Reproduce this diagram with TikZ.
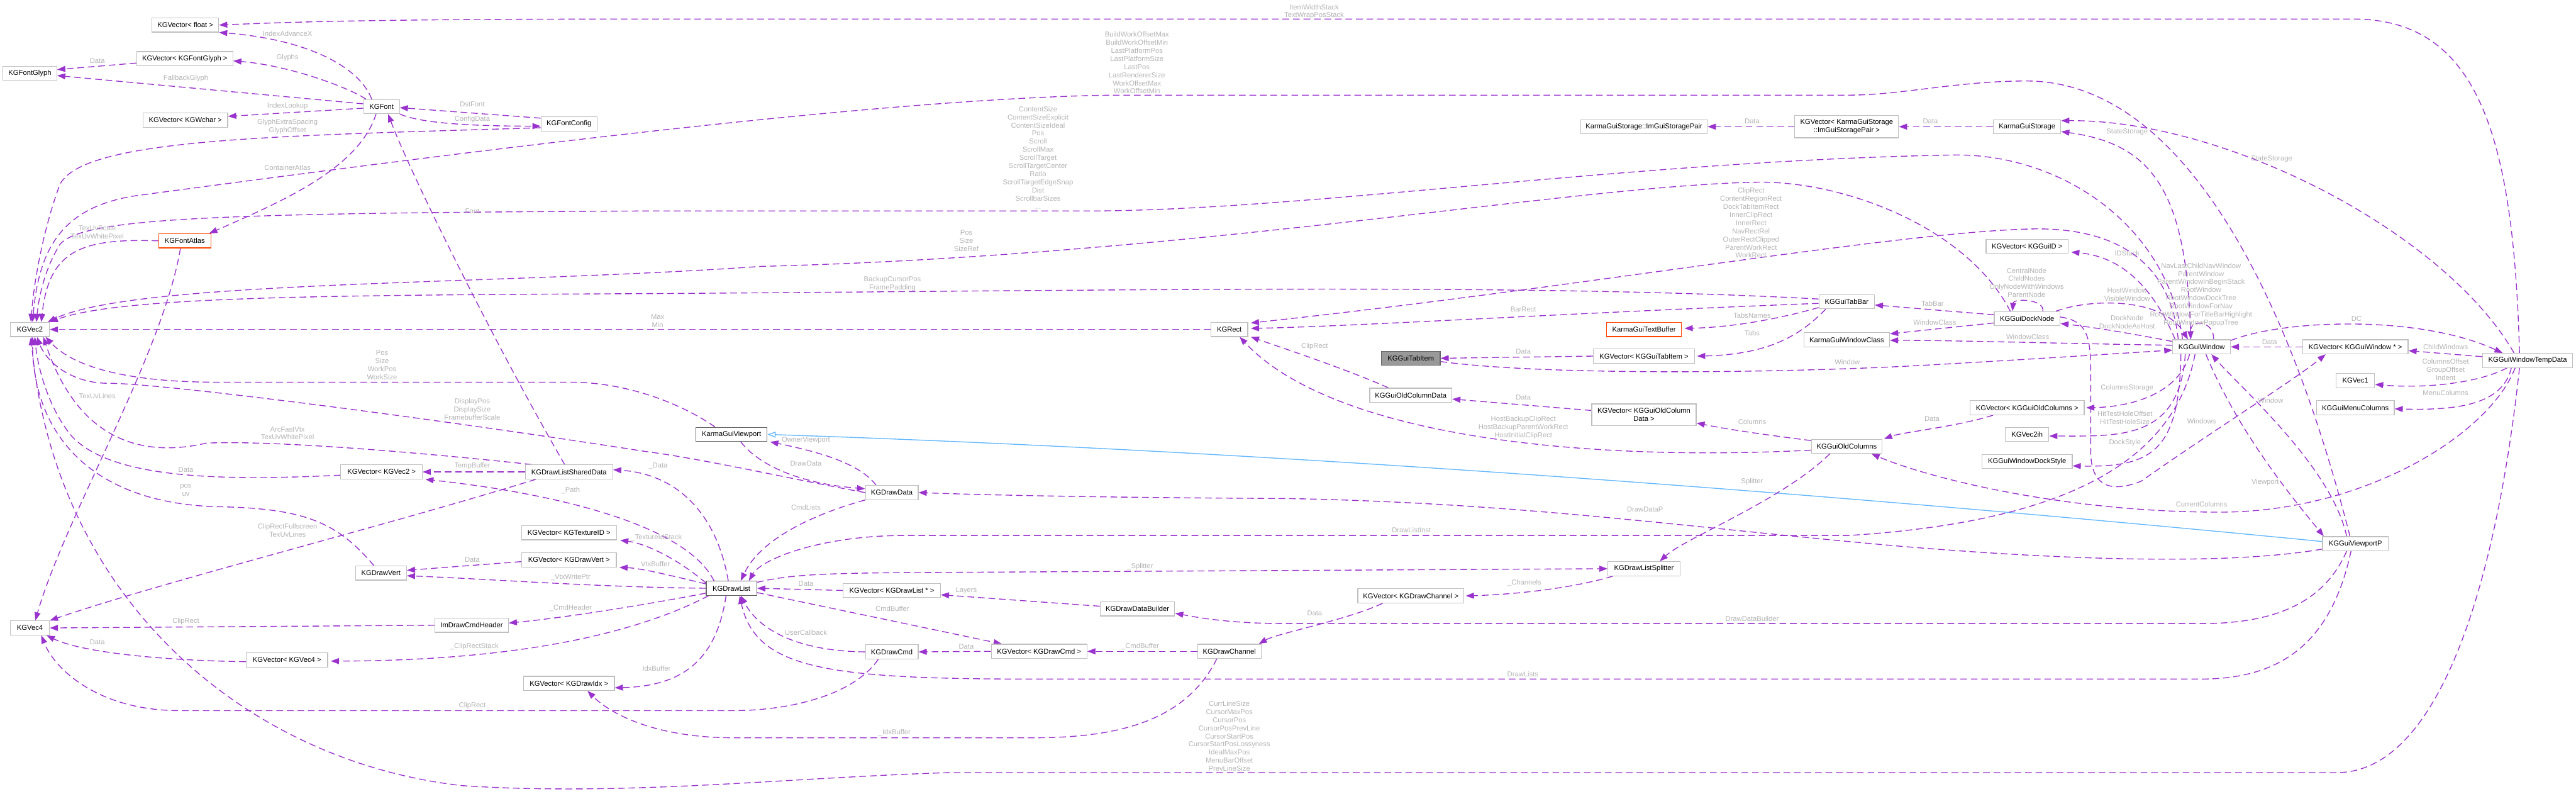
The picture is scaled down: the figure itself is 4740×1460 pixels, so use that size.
\documentclass[tikz,border=0pt]{standalone}
\usepackage{fontspec}
\setmainfont{Liberation Sans}
\usetikzlibrary{arrows.meta,calc}
\definecolor{edgecol}{HTML}{9A32CD}
\definecolor{lblcol}{HTML}{B4B4B4}
\definecolor{bordcol}{HTML}{BFBFBF}
\definecolor{darkbord}{HTML}{666666}
\definecolor{orangebord}{HTML}{FF4500}
\definecolor{inhcol}{HTML}{63B8FF}
\definecolor{focusfill}{HTML}{999999}
\pgfdeclarelayer{bg}
\pgfsetlayers{bg,main}
\begin{document}
\begin{tikzpicture}[x=0.02cm,y=-0.02cm,
  cls/.style={draw=bordcol, fill=white, line width=0.8pt, font=\fontsize{7.4}{8.5}\selectfont, minimum height=0.52cm, inner xsep=2pt, inner ysep=0pt, align=center},
  lbl/.style={font=\fontsize{7.4}{8.5}\selectfont, text=lblcol, align=center, inner sep=0pt},
  e/.style={draw=edgecol, line width=0.9pt, dash pattern=on 7pt off 4pt, -{Triangle[length=0.3cm,width=0.22cm]}},
  inh/.style={draw=inhcol, line width=0.9pt, -{Triangle[open,length=0.3cm,width=0.22cm,fill=white]}}
]
\useasboundingbox (0,0) rectangle (4740,1460);

% ---------------- nodes ----------------
\node[cls, minimum width=2.46cm] (vfloat) at (341,46) {KGVector< float >};
\node[cls, minimum width=3.54cm] (vglyph) at (340,108) {KGVector< KGFontGlyph >};
\node[cls, minimum width=1.98cm] (glyph) at (55,135) {KGFontGlyph};
\node[cls, minimum width=1.32cm] (font) at (702,196) {KGFont};
\node[cls, minimum width=3.12cm] (vwchar) at (341,221) {KGVector< KGWchar >};
\node[cls, minimum width=2.06cm] (fcfg) at (1047,228) {KGFontConfig};
\node[cls, draw=orangebord, minimum width=1.92cm] (atlas) at (340,443) {KGFontAtlas};
\node[cls, minimum width=1.44cm] (vec2) at (55,606) {KGVec2};
\node[cls, minimum width=3.0cm] (vvec2) at (702,868) {KGVector< KGVec2 >};
\node[cls, minimum width=3.22cm] (shared) at (1047,868) {KGDrawListSharedData};
\node[cls, minimum width=3.5cm] (vtex) at (1047,980) {KGVector< KGTextureID >};
\node[cls, minimum width=1.88cm] (vert) at (701,1054) {KGDrawVert};
\node[cls, minimum width=3.48cm] (vvert) at (1047,1030) {KGVector< KGDrawVert >};
\node[cls, minimum width=1.44cm] (vec4) at (55,1155) {KGVec4};
\node[cls, minimum width=2.7cm] (cmdhdr) at (868,1150) {ImDrawCmdHeader};
\node[cls, minimum width=3.0cm] (vvec4) at (528,1214) {KGVector< KGVec4 >};
\node[cls, minimum width=3.34cm] (vidx) at (1047,1257) {KGVector< KGDrawIdx >};
\node[cls, minimum width=1.36cm] (rect) at (2262,606) {KGRect};
\node[cls, draw=darkbord, minimum width=2.62cm] (vp) at (1346,799) {KarmaGuiViewport};
\node[cls, minimum width=1.94cm] (ddata) at (1641,906) {KGDrawData};
\node[cls, draw=darkbord, minimum width=1.86cm] (dlist) at (1346,1082) {KGDrawList};
\node[cls, minimum width=3.58cm] (vdlist) at (1641,1086) {KGVector< KGDrawList * >};
\node[cls, minimum width=2.74cm] (ddb) at (2093,1120) {KGDrawDataBuilder};
\node[cls, minimum width=1.94cm] (dcmd) at (1641,1199) {KGDrawCmd};
\node[cls, minimum width=3.52cm] (vdcmd) at (1912,1198) {KGVector< KGDrawCmd >};
\node[cls, minimum width=2.34cm] (dchan) at (2262,1198) {KGDrawChannel};
\node[cls, minimum width=2.04cm] (tabbar) at (3398,555) {KGGuiTabBar};
\node[cls, draw=orangebord, minimum width=2.76cm] (tbuf) at (3025,606) {KarmaGuiTextBuffer};
\node[cls, minimum width=3.16cm] (wclass) at (3398,625) {KarmaGuiWindowClass};
\node[cls, draw=darkbord, fill=focusfill, minimum width=2.16cm] (tabitem) at (2596,659) {KGGuiTabItem};
\node[cls, minimum width=3.72cm] (vtabitem) at (3025,655) {KGVector< KGGuiTabItem >};
\node[cls, minimum width=3.02cm] (ocd) at (2596,727) {KGGuiOldColumnData};
\node[cls, minimum width=3.84cm, minimum height=0.8cm] (vocd) at (3025,763) {KGVector< KGGuiOldColumn\\Data >};
\node[cls, minimum width=2.6cm] (oc) at (3398,821) {KGGuiOldColumns};
\node[cls, minimum width=2.66cm] (split) at (3025,1046) {KGDrawListSplitter};
\node[cls, minimum width=3.9cm] (vchan) at (2596,1096) {KGVector< KGDrawChannel >};
\node[cls, minimum width=4.66cm] (spair) at (3025,233) {KarmaGuiStorage::ImGuiStoragePair};
\node[cls, minimum width=3.82cm, minimum height=0.82cm] (vspair) at (3398,233) {KGVector< KarmaGuiStorage\\::ImGuiStoragePair >};
\node[cls, minimum width=2.48cm] (storage) at (3730,233) {KarmaGuiStorage};
\node[cls, minimum width=3.02cm] (vid) at (3730,453) {KGVector< KGGuiID >};
\node[cls, minimum width=2.42cm] (dock) at (3730,586) {KGGuiDockNode};
\node[cls, minimum width=2.12cm] (win) at (4051,638) {KGGuiWindow};
\node[cls, minimum width=3.88cm] (vwin) at (4334,638) {KGVector< KGGuiWindow * >};
\node[cls, minimum width=3.32cm] (temp) at (4651,663) {KGGuiWindowTempData};
\node[cls, minimum width=1.42cm] (vec1) at (4334,700) {KGVec1};
\node[cls, minimum width=2.86cm] (menucol) at (4334,750) {KGGuiMenuColumns};
\node[cls, minimum width=4.2cm] (voc) at (3730,750) {KGVector< KGGuiOldColumns >};
\node[cls, minimum width=1.6cm] (vec2ih) at (3730,799) {KGVec2ih};
\node[cls, minimum width=3.32cm] (dstyle) at (3730,849) {KGGuiWindowDockStyle};
\node[cls, minimum width=2.42cm] (vpp) at (4334,1000) {KGGuiViewportP};

% ---------------- edges ----------------
\begin{pgfonlayer}{bg}
\fill[white] (0,0) rectangle (4740,1460);
\draw[e] ($(temp.north)+(-15,0)$) .. controls (4625,250) and (4560,35) .. (4330,35) -- (1200,35) .. controls (700,35) and (550,40) .. (vfloat.east)
  node[lbl] (l1) at (2418,21.5) {ItemWidthStack\\TextWrapPosStack};
\draw[e] ($(font.north)+(-18,0)$) .. controls (660,120) and (560,72) .. (vfloat.south east)
  node[lbl] (l2) at (529,62) {IndexAdvanceX};
\draw[e] ($(font.north west)+(5,0)$) .. controls (640,160) and (530,120) .. ($(vglyph.east)+(0,4)$)
  node[lbl] (l3) at (529,106) {Glyphs};
\draw[e] ($(vglyph.west)+(0,8)$) -- ($(glyph.east)+(0,-7)$)
  node[lbl] (l4) at (179,112) {Data};
\draw[e] ($(font.west)+(0,-5)$) -- ($(glyph.east)+(0,4)$)
  node[lbl] (l5) at (342,144) {FallbackGlyph};
\draw[e] ($(font.west)+(0,3)$) -- ($(vwchar.east)+(0,-7)$)
  node[lbl] (l6) at (529,195) {IndexLookup};
\draw[e] ($(fcfg.north west)+(0,3)$) -- ($(font.east)+(0,2)$)
  node[lbl] (l7) at (869,192) {DstFont};
\draw[e] (font.south east) .. controls (770,225) and (850,232) .. ($(fcfg.west)+(0,4)$)
  node[lbl] (l8) at (869,219) {ConfigData};
\draw[e] ($(fcfg.west)+(0,7)$) .. controls (500,250) and (150,255) .. (110,340) .. controls (80,420) and (62,520) .. ($(vec2.north)+(2,0)$)
  node[lbl] (l9) at (529,233) {GlyphExtraSpacing\\GlyphOffset};
\draw[e] ($(vpp.north)+(-10,0)$) .. controls (4200,500) and (4000,149) .. (3729,149) .. controls (3600,149) and (3500,175) .. (3400,175) -- (2050,175) .. controls (1600,180) and (700,300) .. (250,360) .. controls (120,380) and (72,450) .. ($(vec2.north)+(5,0)$)
  node[lbl] (l10) at (2092,115.5) {BuildWorkOffsetMax\\BuildWorkOffsetMin\\LastPlatformPos\\LastPlatformSize\\LastPos\\LastRendererSize\\WorkOffsetMax\\WorkOffsetMin};
\draw[e] ($(win.north)+(-35,0)$) .. controls (3990,420) and (3800,285) .. (3600,285) .. controls (3000,295) and (2400,388) .. (2000,388) -- (1200,388) .. controls (400,392) and (150,400) .. (110,450) .. controls (85,490) and (72,540) .. ($(vec2.north)+(12,0)$)
  node[lbl] (l11) at (1910,290) {ContentSize\\ContentSizeExplicit\\ContentSizeIdeal\\Pos\\Scroll\\ScrollMax\\ScrollTarget\\ScrollTargetCenter\\Ratio\\ScrollTargetEdgeSnap\\Dist\\ScrollbarSizes\\...};
\draw[e] ($(shared.north)+(-8,0)$) .. controls (920,650) and (760,330) .. ($(font.south)+(12,0)$)
  node[lbl] (l12) at (869,388) {Font};
\draw[e] ($(font.south)+(-10,0)$) .. controls (660,310) and (520,370) .. ($(atlas.north)+(45,0)$)
  node[lbl] (l13) at (529,308) {ContainerAtlas};
\draw[e] (atlas.west) .. controls (150,438) and (90,460) .. ($(vec2.north)+(21,0)$)
  node[lbl] (l14) at (179,427.5) {TexUvScale\\TexUvWhitePixel};
\draw[e] ($(atlas.south)+(-8,0)$) .. controls (300,650) and (120,950) .. ($(vec4.north)+(10,0)$)
  node[lbl] (l15) at (179,729) {TexUvLines};
\draw[e] ($(temp.south)+(-15,0)$) .. controls (4590,1100) and (4480,1421) .. (4300,1421) -- (1750,1421) .. controls (1450,1430) and (1150,1465) .. (850,1445) .. controls (450,1400) and (100,1100) .. ($(vec2.south)+(2,0)$)
  node[lbl] (l16) at (2262,1354) {CurrLineSize\\CursorMaxPos\\CursorPos\\CursorPosPrevLine\\CursorStartPos\\CursorStartPosLossyness\\IdealMaxPos\\MenuBarOffset\\PrevLineSize};
\draw[e] ($(tabbar.west)+(0,-5)$) .. controls (2800,520) and (2000,535) .. (1200,540) .. controls (600,543) and (220,545) .. (vec2.north east)
  node[lbl] (l17) at (1642,522) {BackupCursorPos\\FramePadding};
\draw[e] ($(dock.north)+(-31,0)$) .. controls (3620,420) and (3400,335) .. (3239,335) .. controls (2900,340) and (2200,470) .. (1400,490) .. controls (900,525) and (250,515) .. ($(vec2.north east)+(-4,0)$)
  node[lbl] (l18) at (1778,443) {Pos\\Size\\SizeRef};
\draw[e] (rect.west) -- (vec2.east)
  node[lbl] (l19) at (1210,590) {Max\\Min};
\draw[e] ($(vp.north west)+(36,0)$) .. controls (1250,740) and (1150,703) .. (1050,703) -- (400,703) .. controls (250,703) and (140,680) .. ($(vec2.south east)+(-8,0)$)
  node[lbl] (l20) at (703,671) {Pos\\Size\\WorkPos\\WorkSize};
\draw[e] (ddata.west) .. controls (1450,880) and (1300,845) .. (1185,830) .. controls (800,770) and (300,705) .. (200,705) .. controls (130,705) and (85,665) .. ($(vec2.south)+(13,0)$)
  node[lbl] (l21) at (869,753) {DisplayPos\\DisplaySize\\FramebufferScale};
\draw[e] (shared.west) -- (vvec2.east)
  node[lbl] (l22) at (869,857) {TempBuffer};
\draw[e] ($(vvec2.west)+(0,6)$) .. controls (400,885) and (200,880) .. (130,800) .. controls (90,750) and (70,680) .. ($(vec2.south)+(9,0)$)
  node[lbl] (l23) at (342,864) {Data};
\draw[e] ($(shared.north west)+(12,0)$) .. controls (750,830) and (500,810) .. (380,815) .. controls (250,845) and (140,800) .. ($(vec2.south east)+(-12,0)$)
  node[lbl] (l24) at (529,797) {ArcFastVtx\\TexUvWhitePixel};
\draw[e] ($(dlist.north west)+(15,0)$) .. controls (1260,960) and (1000,905) .. ($(vvec2.south east)+(5,0)$)
  node[lbl] (l25) at (1050,902) {\_Path};
\draw[e] ($(vert.north)+(-13,0)$) .. controls (620,960) and (560,935) .. (400,932) .. controls (150,925) and (60,780) .. ($(vec2.south)+(5,0)$)
  node[lbl] (l26) at (342,902) {pos\\uv};
\draw[e] ($(shared.south west)+(20,0)$) .. controls (700,970) and (300,1070) .. (vec4.north east)
  node[lbl] (l27) at (529,976) {ClipRectFullscreen\\TexUvLines};
\draw[e] ($(dlist.north west)+(0,4)$) .. controls (1250,1030) and (1190,1000) .. ($(vtex.south east)+(6,0)$)
  node[lbl] (l28) at (1208,989) {\_TextureIdStack};
\draw[e] ($(dlist.west)+(0,-8)$) .. controls (1240,1060) and (1180,1045) .. ($(vvert.south east)+(5,0)$)
  node[lbl] (l29) at (1206,1037) {VtxBuffer};
\draw[e] (dlist.west) .. controls (1100,1080) and (900,1065) .. ($(vert.east)+(0,5)$)
  node[lbl] (l30) at (1050,1062) {\_VtxWritePtr};
\draw[e] ($(dlist.west)+(0,9)$) .. controls (1200,1110) and (1050,1135) .. ($(cmdhdr.east)+(0,-4)$)
  node[lbl] (l31) at (1050,1118) {\_CmdHeader};
\draw[e] ($(dlist.south west)+(5,0)$) .. controls (1200,1150) and (1000,1215) .. ($(vvec4.east)+(5,2)$)
  node[lbl] (l32) at (873,1189) {\_ClipRectStack};
\draw[e] ($(dlist.south)+(-10,0)$) .. controls (1320,1200) and (1270,1262) .. ($(vidx.east)+(0,8)$)
  node[lbl] (l33) at (1208,1230) {IdxBuffer};
\draw[e] ($(dlist.east)+(0,8)$) -- ($(vdcmd.north west)+(20,0)$)
  node[lbl] (l34) at (1642,1120) {CmdBuffer};
\draw[e] (vdlist.west) -- (dlist.east)
  node[lbl] (l35) at (1483,1074) {Data};
\draw[e] ($(ddb.west)+(0,-5)$) -- ($(vdlist.east)+(0,8)$)
  node[lbl] (l36) at (1778,1086) {Layers};
\draw[e] (dcmd.west) .. controls (1480,1198) and (1400,1165) .. ($(dlist.south)+(17,0)$)
  node[lbl] (l37) at (1483,1164) {UserCallback};
\draw[e] (vdcmd.west) -- (dcmd.east)
  node[lbl] (l38) at (1778,1189) {Data};
\draw[e] (dchan.west) -- (vdcmd.east)
  node[lbl] (l39) at (2098,1189) {\_CmdBuffer};
\draw[e] ($(dchan.south)+(-23,0)$) .. controls (2180,1330) and (2050,1357) .. (1900,1357) -- (1350,1357) .. controls (1200,1357) and (1120,1310) .. ($(vidx.south)+(34,0)$)
  node[lbl] (l40) at (1646,1348) {\_IdxBuffer};
\draw[e] ($(dcmd.south)+(-25,0)$) .. controls (1570,1280) and (1450,1307) .. (1350,1307) -- (330,1307) .. controls (180,1307) and (100,1230) .. ($(vec4.south)+(21,0)$)
  node[lbl] (l41) at (869,1298) {ClipRect};
\draw[e] (cmdhdr.west) -- (vec4.east)
  node[lbl] (l42) at (342,1143) {ClipRect};
\draw[e] ($(vvec4.west)+(0,3)$) .. controls (300,1215) and (150,1200) .. ($(vec4.south east)+(-6,0)$)
  node[lbl] (l43) at (179,1181) {Data};
\draw[e] ($(vvert.west)+(0,3)$) -- ($(vert.east)+(0,-5)$)
  node[lbl] (l44) at (869,1030) {Data};
\draw[e] ($(vp.south)+(17,0)$) .. controls (1400,860) and (1480,890) .. ($(ddata.west)+(0,-7)$)
  node[lbl] (l45) at (1483,853) {DrawData};
\draw[e] ($(ddata.north)+(-29,0)$) .. controls (1580,850) and (1500,830) .. ($(vp.south east)+(5,0)$)
  node[lbl] (l46) at (1483,810) {OwnerViewport};
\draw[e] (ddata.south west) .. controls (1500,945) and (1400,990) .. ($(dlist.north)+(17,0)$)
  node[lbl] (l47) at (1483,933) {CmdLists};
\draw[e] ($(vpp.west)+(0,10)$) .. controls (4100,1040) and (3800,1030) .. (3500,1005) .. controls (3100,970) and (2800,925) .. (2370,917) .. controls (2000,915) and (1800,910) .. (ddata.east)
  node[lbl] (l48) at (3027,937) {DrawDataP};
\draw[inh] ($(vpp.west)+(0,-4)$) .. controls (3600,930) and (2500,835) .. (vp.east);
\draw[e] ($(vpp.south)+(-16,0)$) .. controls (4280,1100) and (4200,1147) .. (4050,1147) -- (2370,1147) .. controls (2260,1147) and (2200,1135) .. ($(ddb.east)+(0,8)$)
  node[lbl] (l50) at (3224,1138) {DrawDataBuilder};
\draw[e] ($(vpp.south)+(-8,0)$) .. controls (4290,1180) and (4200,1249) .. (4050,1249) -- (1900,1249) .. controls (1520,1249) and (1390,1230) .. ($(dlist.south)+(15,0)$)
  node[lbl] (l51) at (2802,1240) {DrawLists};
\draw[e] ($(dlist.east)+(0,-11)$) .. controls (1450,1058) and (1500,1054) .. (1700,1053) -- (split.west)
  node[lbl] (l52) at (2098,1042) {\_Splitter};
\draw[e] ($(oc.south)+(-31,0)$) .. controls (3280,920) and (3100,990) .. ($(split.north)+(29,0)$)
  node[lbl] (l53) at (3224,886) {Splitter};
\draw[e] ($(split.south west)+(10,0)$) .. controls (2900,1080) and (2800,1093) .. ($(vchan.east)+(3,0)$)
  node[lbl] (l54) at (2805,1072) {\_Channels};
\draw[e] ($(vchan.south)+(-52,0)$) .. controls (2480,1140) and (2350,1165) .. ($(dchan.north east)+(-5,0)$)
  node[lbl] (l55) at (2419,1128) {Data};
\draw[e] ($(tabbar.south west)+(13,0)$) .. controls (3310,620) and (3250,652) .. ($(vtabitem.east)+(4,0)$)
  node[lbl] (l56) at (3224,613) {Tabs};
\draw[e] ($(tabbar.south west)+(0,-3)$) .. controls (3260,590) and (3180,602) .. ($(tbuf.east)+(5,-2)$)
  node[lbl] (l57) at (3224,580) {TabsNames};
\draw[e] (vtabitem.west) -- (tabitem.east)
  node[lbl] (l58) at (2803,647) {Data};
\draw[e] ($(tabbar.west)+(0,3)$) .. controls (2900,575) and (2500,600) .. ($(rect.east)+(5,-2)$)
  node[lbl] (l59) at (2803,569) {BarRect};
\draw[e] ($(ocd.north west)+(35,0)$) .. controls (2480,680) and (2360,640) .. ($(rect.south east)+(5,0)$)
  node[lbl] (l60) at (2419,637) {ClipRect};
\draw[e] ($(oc.west)+(0,7)$) .. controls (2900,850) and (2450,800) .. ($(rect.south)+(19,0)$)
  node[lbl] (l61) at (2803,786) {HostBackupClipRect\\HostBackupParentWorkRect\\HostInitialClipRect};
\draw[e] ($(vocd.west)+(0,-8)$) -- ($(ocd.east)+(0,7)$)
  node[lbl] (l62) at (2803,731) {Data};
\draw[e] ($(oc.north west)+(0,3)$) .. controls (3250,800) and (3180,790) .. ($(vocd.east)+(0,15)$)
  node[lbl] (l63) at (3224,776) {Columns};
\draw[e] (vspair.west) -- (spair.east)
  node[lbl] (l64) at (3224,223) {Data};
\draw[e] (storage.west) -- (vspair.east)
  node[lbl] (l65) at (3552,223) {Data};
\draw[e] ($(win.north)+(-20,0)$) .. controls (4025,350) and (3960,265) .. ($(storage.east)+(0,9)$)
  node[lbl] (l66) at (3914,243) {StateStorage};
\draw[e] ($(temp.north)+(-25,0)$) .. controls (4500,430) and (4100,220) .. ($(storage.east)+(0,-11)$)
  node[lbl] (l67) at (4180,292) {StateStorage};
\draw[e] ($(win.north west)+(5,0)$) .. controls (3950,500) and (3880,470) .. ($(vid.south east)+(5,-3)$)
  node[lbl] (l69) at (3914,466) {IDStack};
\draw[e] ($(win.north)+(-43,0)$) .. controls (3990,450) and (3850,420) .. (3744,421) .. controls (3500,425) and (2900,530) .. ($(rect.east)+(5,-12)$)
  node[lbl] (l70) at (3222,410) {ClipRect\\ContentRegionRect\\DockTabItemRect\\InnerClipRect\\InnerRect\\NavRectRel\\OuterRectClipped\\ParentWorkRect\\WorkRect};
\draw[e] ($(win.west)+(0,-10)$) .. controls (3930,615) and (3860,603) .. ($(dock.east)+(0,9)$)
  node[lbl] (l71) at (3914,592.5) {DockNode\\DockNodeAsHost};
\draw[e] ($(dock.north east)+(-8,0)$) .. controls (3850,548) and (3980,548) .. ($(win.north)+(-25,0)$)
  node[lbl] (l72) at (3914,542) {HostWindow\\VisibleWindow};
\draw[e] ($(dock.north)+(29,0)$) .. controls (3762,550) and (3705,548) .. ($(dock.north)+(-27,0)$)
  node[lbl] (l73) at (3729,520) {CentralNode\\ChildNodes\\OnlyNodeWithWindows\\ParentNode};
\draw[e] ($(win.north)+(22,0)$) .. controls (4075,590) and (4030,585) .. ($(win.north)+(-20,0)$)
  node[lbl] (l74) at (4050,542) {NavLastChildNavWindow\\ParentWindow\\ParentWindowInBeginStack\\RootWindow\\RootWindowDockTree\\RootWindowForNav\\RootWindowForTitleBarHighlight\\RootWindowPopupTree};
\draw[e] ($(win.south)+(-22,0)$) .. controls (4010,720) and (3930,748) .. ($(voc.east)+(3,0)$)
  node[lbl] (l75) at (3914,713) {ColumnsStorage};
\draw[e] ($(voc.south west)+(43,0)$) .. controls (3600,785) and (3500,795) .. ($(oc.north east)+(3,0)$)
  node[lbl] (l76) at (3555,770) {Data};
\draw[e] ($(win.south)+(-30,0)$) .. controls (4010,810) and (3900,802) .. ($(vec2ih.east)+(0,3)$)
  node[lbl] (l77) at (3910,768) {HitTestHoleOffset\\HitTestHoleSize};
\draw[e] ($(win.south)+(-38,0)$) .. controls (4010,830) and (3960,860) .. ($(dstyle.east)+(0,8)$)
  node[lbl] (l78) at (3910,814) {DockStyle};
\draw[e] ($(dock.east)+(0,-3)$) .. controls (3835,590) and (3847,610) .. (3847,680) -- (3847,830) .. controls (3847,900) and (3890,905) .. (3940,885) .. controls (4060,800) and (4220,700) .. ($(vwin.south west)+(43,0)$)
  node[lbl] (l79) at (4051,775) {Windows};
\draw[e] (vwin.west) -- (win.east)
  node[lbl] (l80) at (4176,629) {Data};
\draw[e] ($(temp.west)+(0,-7)$) -- ($(vwin.east)+(0,7)$)
  node[lbl] (l81) at (4500,638) {ChildWindows};
\draw[e] ($(win.north east)+(0,2)$) .. controls (4200,588) and (4450,578) .. ($(temp.north)+(-46,0)$)
  node[lbl] (l82) at (4336,586) {DC};
\draw[e] ($(temp.south)+(-38,0)$) .. controls (4560,705) and (4460,715) .. ($(vec1.east)+(0,7)$)
  node[lbl] (l83) at (4500,680) {ColumnsOffset\\GroupOffset\\Indent};
\draw[e] ($(temp.south)+(-30,0)$) .. controls (4605,745) and (4520,755) .. ($(menucol.east)+(0,2)$)
  node[lbl] (l84) at (4500,723) {MenuColumns};
\draw[e] ($(temp.south)+(-23,0)$) .. controls (4580,800) and (4350,942) .. (4084,942) .. controls (3800,942) and (3550,880) .. ($(oc.south east)+(-20,0)$)
  node[lbl] (l85) at (4051,928) {CurrentColumns};
\draw[e] ($(tabitem.east)+(0,6)$) .. controls (2850,692) and (3300,686) .. (3555,671) .. controls (3750,660) and (3900,650) .. ($(win.west)+(0,6)$)
  node[lbl] (l86) at (3399,666) {Window};
\draw[e] ($(dock.west)+(0,-7)$) -- ($(tabbar.east)+(0,6)$)
  node[lbl] (l87) at (3556,558) {TabBar};
\draw[e] ($(dock.west)+(0,8)$) -- ($(wclass.east)+(0,-11)$)
  node[lbl] (l88) at (3560,593) {WindowClass};
\draw[e] ($(win.west)+(0,-3)$) .. controls (3800,632) and (3600,626) .. ($(wclass.east)+(0,1)$)
  node[lbl] (l89) at (3731,620) {WindowClass};
\draw[e] ($(win.south)+(8,0)$) .. controls (4120,800) and (4230,930) .. ($(vpp.north west)+(3,0)$)
  node[lbl] (l90) at (4168,887) {Viewport};
\draw[e] ($(vpp.north)+(-16,0)$) .. controls (4290,860) and (4130,720) .. ($(win.south)+(18,0)$)
  node[lbl] (l91) at (4178,737) {Window};
\draw[e] ($(win.south)+(-12,0)$) .. controls (4000,850) and (3800,960) .. (3400,985) -- (1650,985) .. controls (1500,988) and (1400,1030) .. ($(dlist.north)+(32,0)$)
  node[lbl] (l92) at (2597,975) {DrawListInst};
\draw[e] ($(dlist.north)+(-6,0)$) .. controls (1320,950) and (1250,872) .. ($(shared.east)+(0,-4)$)
  node[lbl] (l93) at (1211,857) {\_Data};
\end{pgfonlayer}
\end{tikzpicture}
\end{document}
